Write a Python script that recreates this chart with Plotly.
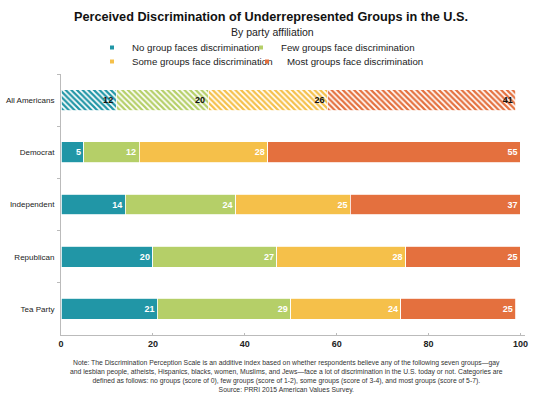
import plotly.graph_objects as go

categories = ["All Americans", "Democrat", "Independent", "Republican", "Tea Party"]
series_names = ["No group faces discrimination", "Few groups face discrimination",
                "Some groups face discrimination", "Most groups face discrimination"]
no_group = [12, 5, 14, 20, 21]
few_groups = [20, 12, 24, 27, 29]
some_groups = [26, 28, 25, 28, 24]
most_groups = [41, 55, 37, 25, 25]
colors = ["#2196a6", "#b5cf68", "#f5c04a", "#e4703e"]
x_ticks = [0, 20, 40, 60, 80, 100]

values = [no_group, few_groups, some_groups, most_groups]
legend_ids = ["legend", "legend2", "legend3", "legend4"]
font_family = "Liberation Sans, Arial, sans-serif"

W, H = 544, 397
PL, PR, PT, PB = 61, 525, 74, 335  # plot area pixels


def px_x(p):
    return (p - PL) / (PR - PL)


def px_y(p):
    return (PB - p) / (PB - PT)


fig = go.Figure()
for name, vals, col, lg in zip(series_names, values, colors, legend_ids):
    shapes = ["\\" if c == "All Americans" else "" for c in categories]
    txt_colors = ["#111111" if c == "All Americans" else "white" for c in categories]
    fig.add_trace(go.Bar(
        y=categories, x=vals, orientation="h", name=name,
        marker=dict(color=col, line=dict(color="white", width=0.8),
                    pattern=dict(shape=shapes, fgcolor=col, bgcolor="white",
                                 fillmode="replace", size=4, solidity=0.55)),
        text=[str(v) for v in vals], textposition="inside", insidetextanchor="end",
        textfont=dict(color=txt_colors, size=9, family=font_family, weight="bold"),
        showlegend=False, hoverinfo="x+y",
    ))
    fig.add_trace(go.Scatter(
        x=[None], y=[None], mode="markers", name=name,
        marker=dict(symbol="square", size=4, color=col),
        showlegend=True, legend=lg,
    ))

legend_common = dict(orientation="h", xref="container", yref="container",
                     xanchor="left", yanchor="top",
                     font=dict(size=9.7, color="#222222"),
                     itemwidth=30, bgcolor="rgba(0,0,0,0)")

fig.update_layout(
    barmode="stack",
    bargap=0.6,
    width=W, height=H,
    margin=dict(l=PL, r=W - PR, t=PT, b=H - PB, autoexpand=False),
    paper_bgcolor="white", plot_bgcolor="white",
    font=dict(family=font_family, color="#222222"),
    title=dict(text="<b>Perceived Discrimination of Underrepresented Groups in the U.S.</b>",
               x=271 / W, xanchor="center", y=1 - 17 / H, yanchor="middle",
               font=dict(size=12.7, color="#111111")),
    legend=dict(legend_common, x=92 / W, y=1 - 33 / H),
    legend2=dict(legend_common, x=241 / W, y=1 - 33 / H),
    legend3=dict(legend_common, x=92 / W, y=1 - 47 / H),
    legend4=dict(legend_common, x=247 / W, y=1 - 47 / H),
    xaxis=dict(range=[0, 101], tickvals=x_ticks, showgrid=False, zeroline=False,
               showline=True, linecolor="#bbbbbb", linewidth=1,
               ticks="inside", ticklen=2, tickcolor="#bbbbbb", automargin=False,
               tickfont=dict(size=9, color="#222222", weight="bold")),
    yaxis=dict(categoryorder="array", categoryarray=categories, autorange="reversed",
               showgrid=False, showline=True, linecolor="#bbbbbb", linewidth=1,
               ticks="outside", tickson="boundaries", ticklen=3, tickcolor="#bbbbbb",
               automargin=False,
               tickfont=dict(size=8, color="#222222"), ticklabelstandoff=4),
)

fig.add_annotation(text="By party affiliation", xref="paper", yref="paper",
                   x=px_x(272), y=px_y(32), yanchor="middle", xanchor="center",
                   showarrow=False, font=dict(size=10.5, color="#222222"))

note = ("Note: The Discrimination Perception Scale is an additive index based on whether respondents believe any of the following seven groups\u2014gay<br>"
        "and lesbian people, atheists, Hispanics, blacks, women, Muslims, and Jews\u2014face a lot of discrimination in the U.S. today or not. Categories are<br>"
        "defined as follows: no groups (score of 0), few groups (score of 1-2), some groups (score of 3-4), and most groups (score of 5-7).<br>"
        "Source: PRRI 2015 American Values Survey.")
fig.add_annotation(text=note, xref="paper", yref="paper",
                   x=px_x(286), y=px_y(357), yanchor="top", xanchor="center",
                   align="center", showarrow=False,
                   font=dict(size=6.8, color="#333333"))

fig.write_html("out.html", config={"displayModeBar": False},
               post_script="document.body.style.margin='0px';")
